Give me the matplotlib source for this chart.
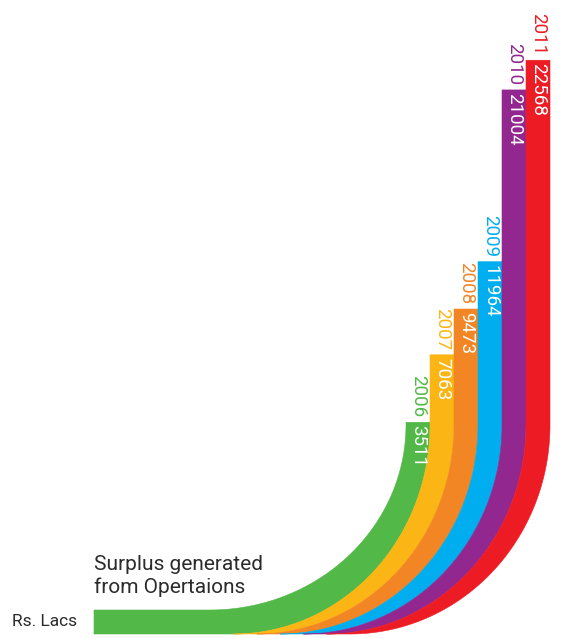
import numpy as np
import matplotlib
matplotlib.use('Agg')
import matplotlib.pyplot as plt
from matplotlib.patches import Polygon

# surplus generated from operations, Rs. Lacs
years = ['2006', '2007', '2008', '2009', '2010', '2011']
surplus = [3511, 7063, 9473, 11964, 21004, 22568]
colors = ['#52b848', '#fbb615', '#f28524', '#00aeef', '#92278f', '#ed1c24']

plt.rcParams['font.family'] = ['Roboto', 'DejaVu Sans']

# layout, in pixel-like units (y grows downwards)
W, H = 566, 638
x_first = 406        # left edge of the first vertical band
band_w = 24
curve_top = 425      # where the bands stop being vertical
bottom = 634
green_inner_bottom = 610
left_x = 94
cx_first, cx_last = 210, 350
base_y = 489         # value 0
px_per_unit = 0.019


def boundary(k, n=80):
    # quarter ellipse from the vertical edge down to the bottom tangent
    xv = x_first + band_w * k
    cx = cx_first + (cx_last - cx_first) * k / 6
    yb = green_inner_bottom if k == 0 else bottom
    t = np.linspace(0, np.pi / 2, n)
    xs = cx + (xv - cx) * np.cos(t)
    ys = curve_top + (yb - curve_top) * np.sin(t)
    return xs, ys


fig = plt.figure(figsize=(W / 100, H / 100), dpi=100)
ax = fig.add_axes([0, 0, 1, 1])
ax.set_xlim(0, W)
ax.set_ylim(H, 0)
ax.axis('off')

for k, (yr, val, c) in enumerate(zip(years, surplus, colors)):
    top = base_y - val * px_per_unit
    xi = x_first + band_w * k
    xo = xi + band_w
    ix, iy = boundary(k)
    ox, oy = boundary(k + 1)
    pts = [(xi, top)] + list(zip(ix, iy))
    if k == 0:
        pts += [(left_x, green_inner_bottom), (left_x, bottom)]
    pts += list(zip(ox[::-1], oy[::-1])) + [(xo, top)]
    ax.add_patch(Polygon(pts, closed=True, facecolor=c, edgecolor=c, lw=0.4))

    xc = xi + band_w / 2
    ax.text(xc + 0.5, top + 3, f'{val}', rotation=-90, ha='center', va='top',
            color='white', fontsize=13.5)
    ax.text(xc + 0.5, top - 5, yr, rotation=-90, ha='center', va='bottom',
            color=c, fontsize=13.5)

ax.text(left_x, 576, 'Surplus generated\nfrom Opertaions', ha='left', va='center',
        fontsize=15, color='#2b2b2b', linespacing=1.2)
ax.text(12, 622, 'Rs. Lacs', ha='left', va='center', fontsize=12.5, color='#2b2b2b')

fig.savefig('out.png', dpi=100)
